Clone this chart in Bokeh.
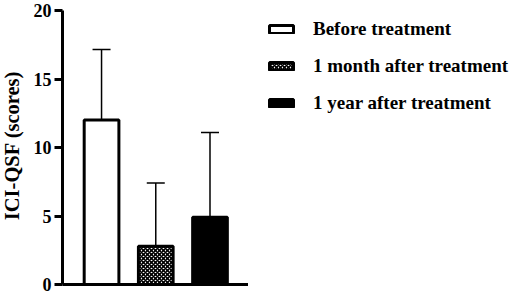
import math
from bokeh.plotting import figure
from bokeh.models import ColumnDataSource, Range1d, Legend, LegendItem, Whisker, TeeHead, FixedTicker, Label
from bokeh.layouts import row
from bokeh.embed import file_html
from bokeh.resources import INLINE

groups = ["Before treatment", "1 month after treatment", "1 year after treatment"]
means = [12.0, 2.8, 4.9]
errors = [5.15, 4.6, 6.2]
yticks = [0, 5, 10, 15, 20]
ylabel = "ICI-QSF (scores)"

xs = [1, 2, 3]
upper = [m + e for m, e in zip(means, errors)]

FONT = "Liberation Serif"
H = 296

# y-axis title strip
p0 = figure(width=25, height=H, output_backend="svg", toolbar_location=None,
            x_range=Range1d(0, 1), y_range=Range1d(0, 1),
            min_border_left=0, min_border_right=0, min_border_top=0, min_border_bottom=0)
p0.axis.visible = False
p0.grid.visible = False
p0.outline_line_color = None
p0.add_layout(Label(x=11, y=H - 157, x_units="screen", y_units="screen", text=ylabel,
                    angle=math.pi / 2, text_align="center", text_baseline="middle",
                    text_font=FONT, text_font_style="bold", text_font_size="20.5px",
                    text_color="black"))

# main chart
p = figure(width=223, height=H, output_backend="svg", toolbar_location=None,
           x_range=Range1d(0.28, 3.71), y_range=Range1d(0, 20),
           min_border_left=37, min_border_right=0, min_border_top=10, min_border_bottom=12)
p.frame_width = 186
p.frame_height = 274
p.grid.visible = False
p.outline_line_color = None
p.background_fill_color = "white"

src_w = ColumnDataSource(dict(x=xs, base=means, upper=upper))
w = Whisker(source=src_w, base="x", lower="base", upper="upper", dimension="height",
            line_color="black", line_width=1.5,
            upper_head=TeeHead(size=18, line_width=1.5, line_color="black"), lower_head=None)
p.add_layout(w)

fills = ["white", "white", "black"]
hatches = [" ", "diagonal_cross", " "]
styles = []
for i in range(3):
    s = ColumnDataSource(dict(x=[xs[i]], top=[means[i]]))
    style = dict(fill_color=fills[i], line_color="black", line_width=3,
                 hatch_pattern=hatches[i], hatch_color="black", hatch_scale=4, hatch_weight=1.6)
    styles.append(style)
    p.vbar(x="x", top="top", bottom=0, width=0.64, source=s, **style)

p.yaxis.ticker = FixedTicker(ticks=yticks)
p.yaxis.axis_line_width = 3
p.yaxis.major_tick_line_width = 3
p.yaxis.major_tick_out = 8
p.yaxis.major_tick_in = 0
p.yaxis.minor_tick_line_color = None
p.yaxis.major_label_text_font = FONT
p.yaxis.major_label_text_font_style = "bold"
p.yaxis.major_label_text_font_size = "18px"
p.yaxis.major_label_text_color = "black"
p.yaxis.major_label_standoff = 3

p.xaxis.ticker = FixedTicker(ticks=[])
p.xaxis.axis_line_width = 3
p.xaxis.major_tick_line_color = None
p.xaxis.minor_tick_line_color = None

# legend panel (hidden renderers; only their legend swatches show)
p2 = figure(width=262, height=H, output_backend="svg", toolbar_location=None,
            x_range=Range1d(0, 1), y_range=Range1d(0, 1),
            min_border_left=0, min_border_right=0, min_border_top=0, min_border_bottom=0)
p2.axis.visible = False
p2.grid.visible = False
p2.outline_line_color = None
items = []
for i in range(3):
    s2 = ColumnDataSource(dict(x=[0.5], top=[0.5]))
    r = p2.vbar(x="x", top="top", bottom=0.4, width=0.1, source=s2, **styles[i])
    r.visible = False
    items.append(LegendItem(label=groups[i], renderers=[r]))
legend = Legend(items=items, location=(18, 170), orientation="vertical",
                glyph_width=30, glyph_height=10, label_standoff=17, spacing=15,
                padding=0, margin=0, border_line_color=None, background_fill_alpha=0,
                label_text_font=FONT, label_text_font_style="bold",
                label_text_font_size="19px", label_text_color="black")
p2.add_layout(legend, "center")

layout = row(p0, p, p2)
open("out.html", "w").write(file_html(layout, INLINE))
